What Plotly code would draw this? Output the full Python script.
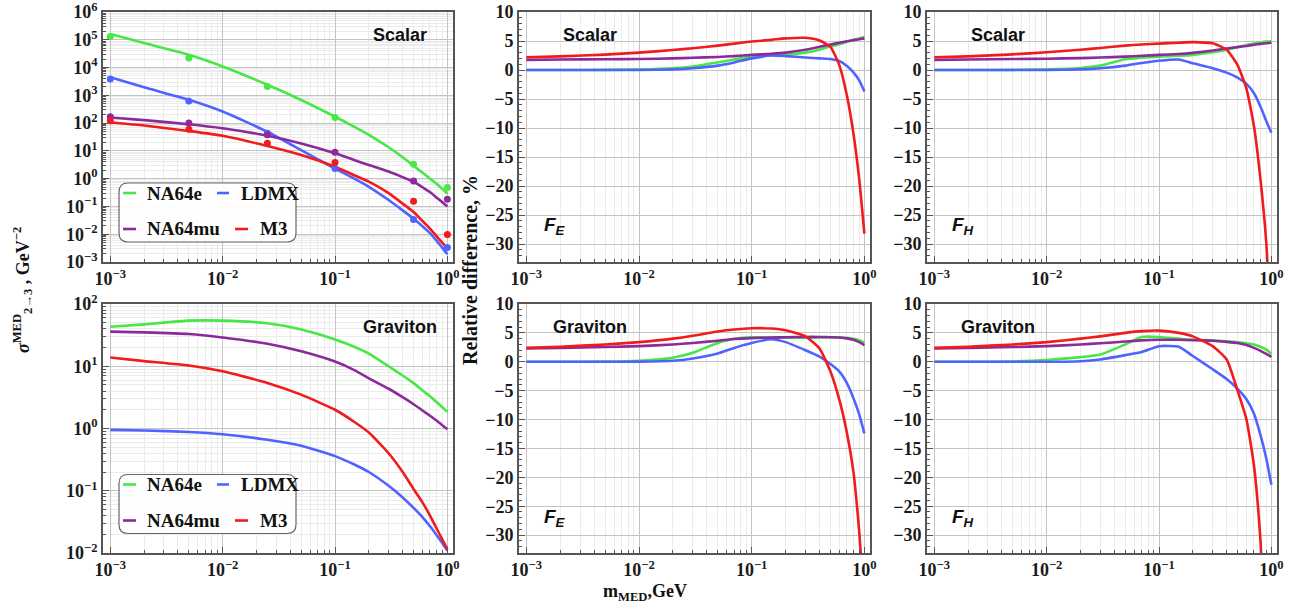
import plotly.graph_objects as go

W, H = 1313, 606

# ---------------- data ----------------
series_names = ["NA64e", "LDMX", "NA64mu", "M3"]
colors = {"NA64e": "#45E845", "LDMX": "#5062FF", "NA64mu": "#8C2A9C", "M3": "#F21A1A"}

# Scalar cross sections (lines)
x_scalar = [0.001, 0.002, 0.005, 0.01, 0.025, 0.05, 0.1, 0.15, 0.2, 0.3, 0.4, 0.5, 0.6, 0.7, 0.8, 0.9, 1.0]
scalar_NA64e = [1.6e5, 7.6e4, 2.9e4, 1.1e4, 2.4e3, 680, 170, 72, 38, 13.5, 5.9, 2.9, 1.66, 1.0, 0.65, 0.43, 0.29]
scalar_LDMX = [4.5e3, 1.95e3, 690, 260, 49, 10.7, 2.3, 0.98, 0.51, 0.17, 0.072, 0.036, 0.0195, 0.011, 0.0059, 0.0033, 0.0019]
scalar_NA64mu = [160, 128, 91, 65, 35, 18.6, 8.2, 4.6, 3.1, 1.8, 1.13, 0.78, 0.49, 0.33, 0.21, 0.143, 0.10]
scalar_M3 = [105, 82, 52, 35, 15, 7.1, 2.7, 1.3, 0.78, 0.30, 0.126, 0.063, 0.030, 0.016, 0.0085, 0.0050, 0.003]

# Scalar cross sections (points)
x_points = [0.001, 0.005, 0.025, 0.1, 0.5, 1.0]
pts_NA64e = [1.3e5, 2.2e4, 2.1e3, 160, 3.3, 0.48]
pts_LDMX = [3.9e3, 630, 43, 2.3, 0.034, 0.0033]
pts_NA64mu = [170, 100, 38, 8.9, 0.83, 0.18]
pts_M3 = [122, 60, 19, 3.8, 0.155, 0.0098]

# Graviton cross sections
x_grav = [0.001, 0.002, 0.005, 0.01, 0.025, 0.05, 0.1, 0.15, 0.2, 0.3, 0.4, 0.5, 0.6, 0.7, 0.8, 0.9, 1.0]
grav_NA64e = [43, 47, 54, 54, 49, 39, 27, 20.4, 16, 10, 7.1, 5.35, 4.1, 3.3, 2.67, 2.2, 1.85]
grav_LDMX = [0.95, 0.93, 0.88, 0.81, 0.66, 0.53, 0.36, 0.262, 0.20, 0.12, 0.078, 0.053, 0.0378, 0.0269, 0.0195, 0.0145, 0.0109]
grav_NA64mu = [36, 35, 33, 29, 23, 17.4, 11.9, 8.6, 6.4, 4.35, 3.18, 2.45, 1.95, 1.6, 1.34, 1.13, 0.97]
grav_M3 = [13.8, 12.1, 10.3, 8.3, 5.4, 3.5, 2.0, 1.26, 0.86, 0.40, 0.2, 0.107, 0.065, 0.04, 0.025, 0.0166, 0.0115]

# Relative differences, %
x_rel = [0.001, 0.002, 0.005, 0.01, 0.02, 0.03, 0.05, 0.07, 0.1, 0.15, 0.2, 0.3, 0.4, 0.5, 0.6, 0.7, 0.8, 0.9, 1.0]

sFE_NA64e = [0, 0, 0.03, 0.1, 0.3, 0.6, 1.3, 1.8, 2.3, 2.5, 2.6, 3.0, 3.5, 4.05, 4.45, 4.85, 5.2, 5.45, 5.7]
sFE_LDMX = [0, 0, 0, 0, 0.1, 0.3, 0.75, 1.3, 2.0, 2.5, 2.4, 2.15, 2.0, 1.9, 1.55, 0.7, -0.4, -1.8, -3.7]
sFE_NA64mu = [1.75, 1.8, 1.85, 1.9, 2.0, 2.1, 2.25, 2.4, 2.6, 2.8, 3.0, 3.5, 4.0, 4.4, 4.7, 4.95, 5.15, 5.3, 5.45]
sFE_M3 = [2.2, 2.35, 2.65, 3.0, 3.45, 3.75, 4.2, 4.55, 4.9, 5.2, 5.45, 5.55, 5.1, 4.0, 0.8, -4.4, -11, -18.8, -28.2]

sFH_NA64e = [0, 0, 0.03, 0.1, 0.35, 0.75, 1.85, 2.1, 2.3, 2.45, 2.6, 3.05, 3.5, 3.95, 4.3, 4.55, 4.75, 4.9, 5.0]
sFH_LDMX = [0, 0, 0, 0, 0.1, 0.3, 0.75, 1.2, 1.6, 1.8, 1.15, 0.3, -0.45, -1.3, -2.4, -4.0, -6.3, -8.8, -10.8]
sFH_NA64mu = [1.75, 1.8, 1.9, 1.95, 2.05, 2.15, 2.3, 2.45, 2.6, 2.75, 2.95, 3.35, 3.7, 3.95, 4.15, 4.35, 4.5, 4.6, 4.7]
sFH_M3 = [2.2, 2.35, 2.7, 3.05, 3.5, 3.8, 4.2, 4.4, 4.55, 4.7, 4.8, 4.6, 3.5, 0.85, -3.2, -9.7, -18.9, -29.7, -48]

gFE_NA64e = [0, 0, 0.03, 0.17, 0.7, 1.55, 3.25, 4.0, 4.25, 4.2, 4.15, 4.15, 4.2, 4.25, 4.25, 4.15, 4.0, 3.75, 3.3]
gFE_LDMX = [0, 0, 0, 0.02, 0.17, 0.57, 1.43, 2.4, 3.25, 3.9, 3.4, 2.0, 0.9, -0.4, -1.7, -3.7, -6.3, -9.1, -12.4]
gFE_NA64mu = [2.3, 2.4, 2.55, 2.7, 3.0, 3.25, 3.65, 3.95, 4.1, 4.2, 4.25, 4.3, 4.3, 4.25, 4.2, 4.05, 3.8, 3.4, 2.9]
gFE_M3 = [2.4, 2.6, 3.0, 3.4, 4.0, 4.5, 5.25, 5.6, 5.8, 5.75, 5.45, 4.4, 2.3, -1.7, -6.6, -12.3, -19.1, -29.4, -42]

gFH_NA64e = [0, 0, 0.05, 0.3, 0.8, 1.25, 3.0, 4.3, 4.3, 4.0, 3.8, 3.7, 3.55, 3.4, 3.2, 3.0, 2.6, 2.1, 1.4]
gFH_LDMX = [0, 0, 0, 0, 0.1, 0.4, 1.15, 1.7, 2.7, 2.6, 1.0, -1.3, -3.0, -4.7, -6.5, -9.0, -12.7, -16.7, -21.3]
gFH_NA64mu = [2.3, 2.4, 2.55, 2.7, 3.0, 3.2, 3.5, 3.7, 3.8, 3.8, 3.75, 3.65, 3.45, 3.25, 2.9, 2.4, 1.9, 1.35, 0.85]
gFH_M3 = [2.4, 2.6, 3.0, 3.4, 4.0, 4.4, 5.0, 5.3, 5.4, 5.0, 4.4, 2.7, 0.4, -5.0, -10, -18, -31, -52, -80]

x_tick_vals = [1e-3, 1e-2, 1e-1, 1]
x_tick_exp = [-3, -2, -1, 0]
sc_tick_exp = [-3, -2, -1, 0, 1, 2, 3, 4, 5, 6]
gr_tick_exp = [-2, -1, 0, 1, 2]
rel_tick_vals = [-30, -25, -20, -15, -10, -5, 0, 5, 10]

# ---------------- layout helpers ----------------
def px(x):
    return x / W

def py(y):
    return 1 - y / H

col_x = [(103, 453), (519, 870), (927, 1277)]
row_y = [(12, 262), (304, 553)]

FRAME = "#555555"
TICKFONT = dict(family="Liberation Serif", size=18, color="#1a1a1a")

def exp_text(e):
    return "<b>10<sup>" + ("−" if e < 0 else "") + str(abs(e)) + "</sup></b>"

def minor_log(e0, e1):
    vals = []
    for e in range(e0, e1):
        for m in range(2, 10):
            vals.append(m * 10.0 ** e)
    return vals

fig = go.Figure()

def add(idx, x, y, name, mode="lines"):
    ax = "" if idx == 1 else str(idx)
    if mode == "lines":
        fig.add_trace(go.Scatter(x=x, y=y, mode="lines", name=name, showlegend=False,
                                 line=dict(color=colors[name], width=2.6, shape="spline", smoothing=0.5),
                                 xaxis="x" + ax, yaxis="y" + ax))
    else:
        fig.add_trace(go.Scatter(x=x, y=y, mode="markers", name=name, showlegend=False,
                                 marker=dict(color=colors[name], size=7),
                                 xaxis="x" + ax, yaxis="y" + ax))

# panel 1: scalar sigma
add(1, x_scalar, scalar_NA64e, "NA64e")
add(1, x_scalar, scalar_LDMX, "LDMX")
add(1, x_scalar, scalar_NA64mu, "NA64mu")
add(1, x_scalar, scalar_M3, "M3")
add(1, x_points, pts_NA64e, "NA64e", "markers")
add(1, x_points, pts_LDMX, "LDMX", "markers")
add(1, x_points, pts_NA64mu, "NA64mu", "markers")
add(1, x_points, pts_M3, "M3", "markers")

# panel 2: scalar F_E
add(2, x_rel, sFE_NA64e, "NA64e")
add(2, x_rel, sFE_LDMX, "LDMX")
add(2, x_rel, sFE_NA64mu, "NA64mu")
add(2, x_rel, sFE_M3, "M3")
# panel 3: scalar F_H
add(3, x_rel, sFH_NA64e, "NA64e")
add(3, x_rel, sFH_LDMX, "LDMX")
add(3, x_rel, sFH_NA64mu, "NA64mu")
add(3, x_rel, sFH_M3, "M3")
# panel 4: graviton sigma
add(4, x_grav, grav_NA64e, "NA64e")
add(4, x_grav, grav_LDMX, "LDMX")
add(4, x_grav, grav_NA64mu, "NA64mu")
add(4, x_grav, grav_M3, "M3")
# panel 5: graviton F_E
add(5, x_rel, gFE_NA64e, "NA64e")
add(5, x_rel, gFE_LDMX, "LDMX")
add(5, x_rel, gFE_NA64mu, "NA64mu")
add(5, x_rel, gFE_M3, "M3")
# panel 6: graviton F_H
add(6, x_rel, gFH_NA64e, "NA64e")
add(6, x_rel, gFH_LDMX, "LDMX")
add(6, x_rel, gFH_NA64mu, "NA64mu")
add(6, x_rel, gFH_M3, "M3")

common = dict(showline=True, linecolor=FRAME, linewidth=1.6, mirror=True,
              ticks="inside", ticklen=6, tickwidth=1.2, tickcolor=FRAME,
              showgrid=True, gridcolor="#c4c4c4", gridwidth=1, zeroline=False,
              tickfont=TICKFONT, automargin=False, ticklabeloverflow="allow")

layout = dict(width=W, height=H, margin=dict(l=0, r=0, t=0, b=0, autoexpand=False),
              paper_bgcolor="white", plot_bgcolor="white")

for idx in range(1, 7):
    r = 0 if idx <= 3 else 1
    c = (idx - 1) % 3
    ax = "" if idx == 1 else str(idx)
    xa = dict(common)
    xa.update(type="log", range=[-3.065, 0.05], tickvals=x_tick_vals,
              ticktext=[exp_text(e) for e in x_tick_exp],
              domain=[px(col_x[c][0]), px(col_x[c][1])], anchor="y" + ax,
              minor=dict(tickvals=minor_log(-3, 0), ticks="inside", ticklen=3.5,
                         tickcolor=FRAME, showgrid=True, gridcolor="#ebebeb"))
    ya = dict(common)
    ya.update(domain=[py(row_y[r][1]), py(row_y[r][0])], anchor="x" + ax)
    if c == 0:
        exps = sc_tick_exp if r == 0 else gr_tick_exp
        ya.update(type="log", range=[exps[0], exps[-1]],
                  tickvals=[10.0 ** e for e in exps], ticktext=[exp_text(e) for e in exps],
                  minor=dict(tickvals=minor_log(exps[0], exps[-1]), ticks="inside", ticklen=3.5,
                             tickcolor=FRAME, showgrid=True, gridcolor="#ebebeb"))
    else:
        ya.update(range=[-33.1, 10], tickvals=rel_tick_vals,
                  ticktext=["<b>" + ("−" if v < 0 else "") + str(abs(v)) + "</b>" for v in rel_tick_vals],
                  minor=dict(dtick=1, ticks="inside", ticklen=3.5, tickcolor=FRAME, showgrid=False))
    layout["xaxis" + ax] = xa
    layout["yaxis" + ax] = ya

fig.update_layout(**layout)

# ---------------- annotations ----------------
LABELFONT = dict(family="Liberation Sans", size=18, color="#111")
ann = []
for (x, y, t) in [(400, 35, "Scalar"), (590, 35, "Scalar"), (998, 35, "Scalar"),
                  (400, 327, "Graviton"), (590, 327, "Graviton"), (998, 327, "Graviton")]:
    ann.append(dict(x=px(x), y=py(y), xref="paper", yref="paper", text="<b>" + t + "</b>",
                    showarrow=False, font=LABELFONT, xanchor="center", yanchor="middle"))
for (x, y, t) in [(555, 226, "<b><i>F<sub>E</sub></i></b>"), (963, 226, "<b><i>F<sub>H</sub></i></b>"),
                  (555, 518, "<b><i>F<sub>E</sub></i></b>"), (963, 518, "<b><i>F<sub>H</sub></i></b>")]:
    ann.append(dict(x=px(x), y=py(y), xref="paper", yref="paper", text=t, showarrow=False,
                    font=dict(family="Liberation Sans", size=19, color="#111"),
                    xanchor="center", yanchor="middle"))

TITLEFONT = dict(family="Liberation Serif", size=18, color="#111")
ann.append(dict(x=px(22), y=py(290), xref="paper", yref="paper",
                text="<b><i>σ</i><sup>MED</sup><sub>2→3</sub> , GeV<sup>−2</sup></b>",
                textangle=-90, showarrow=False, font=TITLEFONT, xanchor="center", yanchor="middle"))
ann.append(dict(x=px(470), y=py(270), xref="paper", yref="paper",
                text="<b>Relative difference, %</b>", textangle=-90, showarrow=False,
                font=dict(family="Liberation Serif", size=20, color="#111"),
                xanchor="center", yanchor="middle"))
ann.append(dict(x=px(645), y=py(592), xref="paper", yref="paper",
                text="<b>m<sub>MED</sub>,GeV</b>", showarrow=False,
                font=TITLEFONT, xanchor="center", yanchor="middle"))

# ---------------- manual legends ----------------
shapes = []

def rounded_box(x0, y0, x1, y1, r=9):
    rx, ry = r / W, r / H
    X0, X1 = px(x0), px(x1)
    Y0, Y1 = py(y1), py(y0)  # bottom, top in paper
    return (f"M {X0+rx},{Y0} L {X1-rx},{Y0} Q {X1},{Y0} {X1},{Y0+ry} "
            f"L {X1},{Y1-ry} Q {X1},{Y1} {X1-rx},{Y1} L {X0+rx},{Y1} "
            f"Q {X0},{Y1} {X0},{Y1-ry} L {X0},{Y0+ry} Q {X0},{Y0} {X0+rx},{Y0} Z")

LEGFONT = dict(family="Liberation Serif", size=19, color="#111")
for dy in (0, 291.5):
    shapes.append(dict(type="path", xref="paper", yref="paper",
                       path=rounded_box(119, 183 + dy, 296, 242 + dy),
                       fillcolor="rgba(255,255,255,0.92)", line=dict(color="#666", width=1.2)))
    entries = [("NA64e", 123, 136, 145, 193), ("LDMX", 217, 229, 239, 193),
               ("NA64mu", 123, 136, 145, 229), ("M3", 235, 248, 258, 229)]
    for name, l0, l1, tx, ty in entries:
        shapes.append(dict(type="line", xref="paper", yref="paper",
                           x0=px(l0), x1=px(l1), y0=py(ty + dy), y1=py(ty + dy),
                           line=dict(color=colors[name], width=2.6)))
        ann.append(dict(x=px(tx), y=py(ty + dy), xref="paper", yref="paper", text="<b>" + name + "</b>",
                        showarrow=False, font=LEGFONT, xanchor="left", yanchor="middle"))

fig.update_layout(annotations=ann, shapes=shapes)
fig.write_html("out.html", config={"displayModeBar": False},
               post_script="document.body.style.margin='0';document.body.style.padding='0';"
                           "document.documentElement.style.overflow='hidden';")
